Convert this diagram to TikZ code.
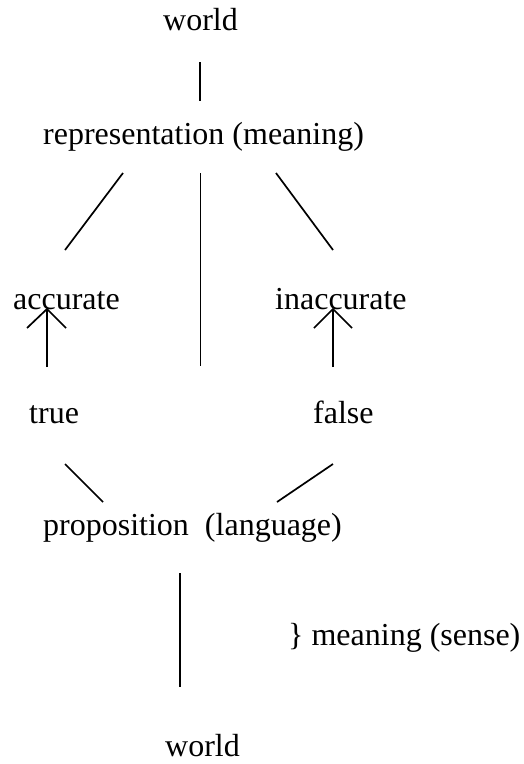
\documentclass[tikz,border=0pt]{standalone}
\usepackage{fontspec}
\setmainfont{Liberation Serif}
\begin{document}
\begin{tikzpicture}[x=1pt,y=-1pt,
  lbl/.style={anchor=base west,inner sep=0pt,font=\fontsize{32}{38}\selectfont},
  thick line/.style={line width=1.7pt},
  thin line/.style={line width=0.9pt}]
\useasboundingbox (0,0) rectangle (523,764);
% texts
\node[lbl] (w1) at (163,30) {world};
\node[lbl] (rep) at (43,144) {representation (meaning)};
\node[lbl] (acc) at (13,309) {accurate};
\node[lbl] (inacc) at (275,309) {inaccurate};
\node[lbl] (tru) at (29,423) {true};
\node[lbl] (fal) at (313,423) {false};
\node[lbl] (prop) at (43,535) {proposition\ \ (language)};
\node[lbl] (sense) at (288,645) {\} meaning (sense)};
\node[lbl] (w2) at (165,756) {world};
% endpoints
\coordinate (a1) at (200,62);  \coordinate (a2) at (200,101);
\coordinate (b1) at (123,173); \coordinate (b2) at (65,250);
\coordinate (c1) at (200,173); \coordinate (c2) at (200,366);
\coordinate (d1) at (276,173); \coordinate (d2) at (333,250);
\coordinate (e0) at (47,367);  \coordinate (e1) at (47,309);
\coordinate (el) at (27,328);  \coordinate (er) at (66,328);
\coordinate (f0) at (333,367); \coordinate (f1) at (333,309);
\coordinate (fl) at (314,328); \coordinate (fr) at (352,328);
\coordinate (g1) at (65,464);  \coordinate (g2) at (103,502);
\coordinate (h1) at (333,464); \coordinate (h2) at (277,502);
\coordinate (k1) at (180,573); \coordinate (k2) at (180,687);
% connectors
\draw[thick line] (a1) -- (a2);
\draw[thick line] (b1) -- (b2);
\draw[thin line] (c1) -- (c2);
\draw[thick line] (d1) -- (d2);
\draw[thick line] (e0) -- (e1);
\draw[thick line] (el) -- (e1) -- (er);
\draw[thick line] (f0) -- (f1);
\draw[thick line] (fl) -- (f1) -- (fr);
\draw[thick line] (g1) -- (g2);
\draw[thick line] (h1) -- (h2);
\draw[thick line] (k1) -- (k2);
\end{tikzpicture}
\end{document}
